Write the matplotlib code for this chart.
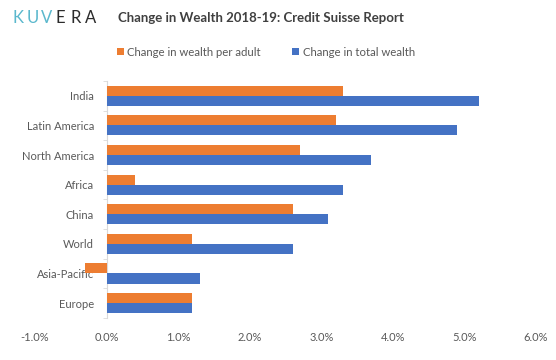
import numpy as np
import matplotlib
matplotlib.use('Agg')
import matplotlib.pyplot as plt
from matplotlib.ticker import FuncFormatter

plt.rcParams['font.family'] = ['Lato', 'DejaVu Sans']

regions = ['India', 'Latin America', 'North America', 'Africa', 'China',
           'World', 'Asia-Pacific', 'Europe']
per_adult = [3.3, 3.2, 2.7, 0.4, 2.6, 1.2, -0.3, 1.2]
total = [5.2, 4.9, 3.7, 3.3, 3.1, 2.6, 1.3, 1.2]
xticks = [-1, 0, 1, 2, 3, 4, 5, 6]

orange = '#ED7D31'
blue = '#4472C4'
grey = '#595959'

fig = plt.figure(figsize=(5.56, 3.6), dpi=100)
ax = fig.add_axes([0.063, 0.117, 0.901, 0.658])

y = np.arange(len(regions))
h = 0.34
ax.barh(y - h / 2, per_adult, height=h, color=orange, zorder=3,
        label='Change in wealth per adult')
ax.barh(y + h / 2, total, height=h, color=blue, zorder=3,
        label='Change in total wealth')

ax.set_ylim(len(regions) - 0.5, -0.5)
ax.set_xlim(-1, 6)
ax.set_yticks(y)
ax.set_yticklabels(regions)
ax.set_xticks(xticks)
ax.xaxis.set_major_formatter(FuncFormatter(lambda v, p: '%.1f%%' % v))

for s in ['top', 'right', 'bottom']:
    ax.spines[s].set_visible(False)
ax.spines['left'].set_position(('data', 0))
ax.spines['left'].set_color('#D9D9D9')
ax.set_yticks(np.arange(len(regions) + 1) - 0.5, minor=True)
ax.tick_params(axis='y', which='major', length=0, pad=9, labelsize=8,
               labelcolor=grey)
ax.tick_params(axis='y', which='minor', length=3, color='#D9D9D9')
ax.tick_params(axis='x', length=0, pad=10, labelsize=8, labelcolor=grey)

fig.text(0.47, 0.95, 'Change in Wealth 2018-19: Credit Suisse Report',
         ha='center', va='center', fontsize=9.5, fontweight='bold',
         color='#404040')

# logo, letter-spaced
for i, ch in enumerate('KUVERA'):
    fig.text((12 + i * 14.5) / 556, 0.95, ch, ha='left', va='center',
             fontsize=12, color='#5BB8CD' if i < 3 else '#2B2B2B')

fig.legend(loc='center', bbox_to_anchor=(0.478, 0.855), ncol=2, frameon=False,
           fontsize=8.2, handlelength=0.6, handleheight=0.6, columnspacing=2.8,
           handletextpad=0.3, labelcolor=grey)

fig.savefig('out.png', dpi=100)
